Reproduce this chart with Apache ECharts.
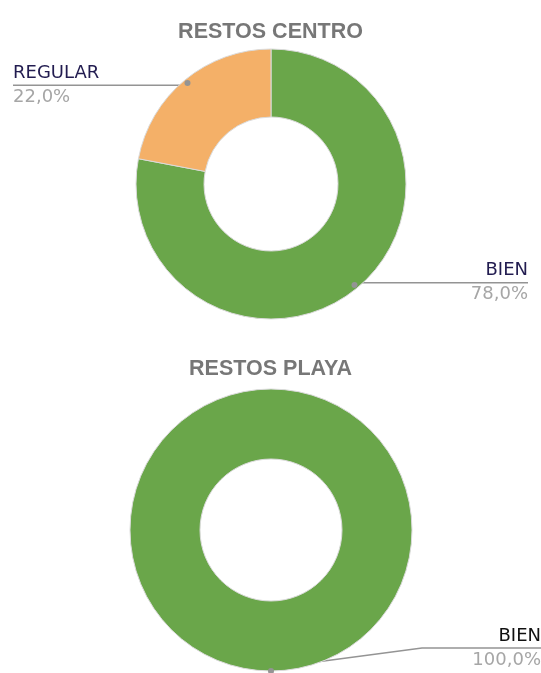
<!DOCTYPE html>
<html>
<head>
<meta charset="utf-8">
<script src="https://cdn.jsdelivr.net/npm/echarts@6/dist/echarts.min.js"></script>
<style>
  html, body { margin: 0; padding: 0; background: #fff; }
  #chart { width: 541px; height: 673px; }
</style>
</head>
<body>
<div id="chart"></div>
<script>
const titles = ['RESTOS CENTRO', 'RESTOS PLAYA']
const centroNames = ['BIEN', 'REGULAR']
const centroValues = [78, 22]
const playaNames = ['BIEN']
const playaValues = [100]
const colors = ['#6aa64a', '#f4b068']

// layout of the two donuts (px)
const pies = [
  { titleTop: 16, center: [271, 184], r0: 67, r: 135, dotR: 128, lift: 0, bendDx: 0, leftEdge: 13, rightEdge: 528, nameColor: '#221c50' },
  { titleTop: 353, center: [271, 530], r0: 71, r: 141, dotR: 138, lift: 20, bendDx: 151, leftEdge: 13, rightEdge: 541, nameColor: '#111111' }
]

const fmtPct = (p) => p.toFixed(1).replace('.', ',') + '%'

function toData (names, values) {
  return names.map((n, i) => ({ name: n, value: values[i] }))
}

// move the label line start onto the ring and stretch it to the page edge
function makeLayout (pie) {
  return (params) => {
    const p = params.labelLinePoints
    const cx = pie.center[0]
    const cy = pie.center[1]
    const k = pie.dotR / pie.r
    const dot = [cx + (p[0][0] - cx) * k, cy + (p[0][1] - cy) * k]
    const right = dot[0] >= cx - 1
    const lineY = dot[1] - pie.lift
    const bend = pie.lift ? [dot[0] + pie.bendDx, lineY] : dot
    const edgeX = right ? pie.rightEdge : pie.leftEdge
    return {
      x: edgeX,
      y: lineY,
      align: right ? 'right' : 'left',
      verticalAlign: 'middle',
      labelLinePoints: [dot, bend, [edgeX, lineY]]
    }
  }
}

function donut (pie, data) {
  return {
    type: 'pie',
    center: pie.center,
    radius: [pie.r0, pie.r],
    startAngle: 90,
    data: data,
    itemStyle: { borderColor: '#dadada', borderWidth: 1 },
    emphasis: { disabled: true },
    label: {
      show: true,
      formatter: (p) => '{n|' + p.name + '}\n{v|' + fmtPct(p.percent) + '}',
      rich: {
        n: { fontFamily: 'DejaVu Sans', fontSize: 18, lineHeight: 24, color: pie.nameColor },
        v: { fontFamily: 'DejaVu Sans', fontSize: 18, lineHeight: 24, color: '#a6a6a6' }
      }
    },
    labelLine: { show: true, length: 10, length2: 10, lineStyle: { color: '#949494', width: 1.5 } },
    labelLayout: makeLayout(pie)
  }
}

// thin transparent ring carrying the small dot at the start of each label line
function dots (pie, data) {
  return {
    type: 'pie',
    center: pie.center,
    radius: [pie.dotR - 3, pie.dotR + 3],
    startAngle: 90,
    silent: true,
    data: data,
    itemStyle: { color: 'rgba(0,0,0,0)' },
    label: {
      show: true,
      position: 'inside',
      formatter: '{d|}',
      rich: { d: { width: 6, height: 6, borderRadius: 3, backgroundColor: '#949494' } }
    },
    labelLine: { show: false }
  }
}

const centroData = toData(centroNames, centroValues)
const playaData = toData(playaNames, playaValues)

const chart = echarts.init(document.getElementById('chart'))
chart.setOption({
  animation: false,
  color: colors,
  title: titles.map((t, i) => ({
    text: t,
    left: 'center',
    top: pies[i].titleTop,
    textStyle: { fontFamily: 'Liberation Sans', fontWeight: 'bold', fontSize: 21.5, color: '#777777' }
  })),
  series: [
    donut(pies[0], centroData),
    donut(pies[1], playaData),
    dots(pies[0], centroData),
    dots(pies[1], playaData)
  ]
})
</script>
</body>
</html>
